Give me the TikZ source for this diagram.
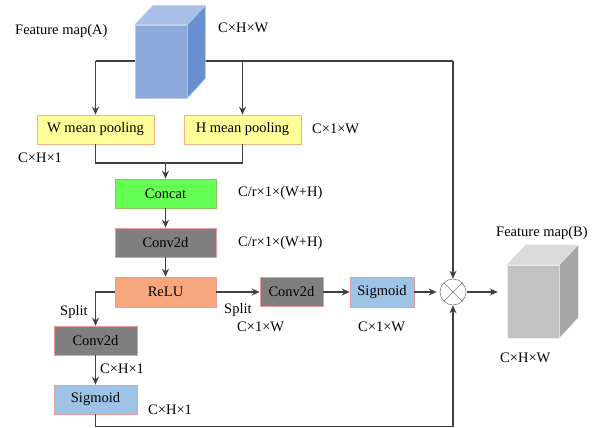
\documentclass[tikz,border=0pt]{standalone}
\usepackage{fontspec}
\setmainfont{Liberation Serif}
\usetikzlibrary{arrows.meta, positioning, calc}

\definecolor{linegray}{HTML}{404040}
\definecolor{poolfill}{HTML}{FFFF99}
\definecolor{poolline}{HTML}{F4B183}
\definecolor{catfill}{HTML}{66FF55}
\definecolor{convfill}{HTML}{7F7F7F}
\definecolor{relufill}{HTML}{F7A77E}
\definecolor{sigfill}{HTML}{9DC3E6}
\definecolor{pinkline}{HTML}{EA9A9A}
\definecolor{cubefront}{HTML}{8EA9DB}
\definecolor{cubetop}{HTML}{AABFE6}
\definecolor{cubeside}{HTML}{6A8FD0}
\definecolor{grayfront}{HTML}{C2C2C2}
\definecolor{graytop}{HTML}{DADADA}
\definecolor{grayside}{HTML}{A6A6A6}

\tikzset{
  txt/.style={font=\fontsize{14.5}{16}\selectfont, inner sep=0pt},
  blk/.style={txt, draw=pinkline, line width=0.6pt, minimum height=29pt},
  pool/.style={blk, draw=poolline, fill=poolfill, minimum width=117pt},
  cat/.style={blk, draw=pinkline!60!green, fill=catfill, minimum width=101pt},
  conv/.style={blk, fill=convfill},
  relu/.style={blk, fill=relufill, minimum width=101pt, minimum height=30pt},
  sig/.style={blk, fill=sigfill},
  link/.style={draw=linegray, line width=1.1pt},
  arr/.style={link, -{Stealth[length=8pt,width=7pt]}}
}

\begin{document}
\begin{tikzpicture}[x=1pt, y=-1pt]
  \useasboundingbox (0,0) rectangle (600,428);

  % --- Input feature map and its two taps ---
  \coordinate (tapL) at (95.5,61);
  \coordinate (tapR) at (453,61);
  \draw[link] (tapL) -- (tapR);
  \node[fill=cubefront, draw=cubefront!60!white, line width=0.5pt,
        minimum width=52pt, minimum height=73pt, inner sep=0pt] (cubeA) at (161,61.5) {};
  \draw[fill=cubetop, draw=cubefront!60!white, line width=0.5pt]
    (cubeA.north west) -- ++(18,-19) -- ++(52,0) -- (cubeA.north east) -- cycle;
  \draw[fill=cubeside, draw=cubefront!60!white, line width=0.5pt]
    (cubeA.north east) -- ++(18,-19) -- ++(0,73) -- (cubeA.south east) -- cycle;
  \node[txt, anchor=west] (nameA) at (15,31) {Feature map(A)};
  \node[txt, anchor=west] (dimA) at (218,28) {C×H×W};

  % --- Pooling along W and H ---
  \node[pool] (wpool) at (95.5,129.5) {W mean pooling};
  \node[pool] (hpool) at (242.5,129.5) {H mean pooling};
  \draw[arr] (tapL) -- (wpool.north);
  \draw[arr] (hpool.north |- tapL) -- (hpool.north);
  \node[txt, anchor=west] (dimW) at (18,158) {C×H×1};
  \node[txt, anchor=west] (dimH) at (312,129) {C×1×W};

  % --- Shared trunk ---
  \coordinate (merge) at (165.5,163);
  \draw[link] (wpool.south) |- (merge) -| (hpool.south);
  \node[cat] (concat) at (165.5,193.5) {Concat};
  \node[conv, minimum width=101pt] (convA) at (165.5,242.5) {Conv2d};
  \node[relu] (relu) at (165.5,292) {ReLU};
  \draw[arr] (merge) -- (concat.north);
  \draw[arr] (concat) -- (convA);
  \draw[arr] (convA) -- (relu);
  \node[txt, anchor=west] (dimCat) at (238,193) {C/r×1×(W+H)};
  \node[txt, anchor=west] (dimConv) at (238,243) {C/r×1×(W+H)};

  % --- W branch (right) ---
  \node[conv, minimum width=63pt] (convB) at (291.5,292) {Conv2d};
  \node[sig, minimum width=64pt, minimum height=30pt] (sigB) at (382,292) {Sigmoid};
  \node[circle, draw=gray, fill=white, line width=0.6pt, minimum size=26pt, inner sep=0pt] (mul) at (453,292) {};
  \draw[gray, line width=0.6pt] (mul.north west) -- (mul.south east)
                                  (mul.north east) -- (mul.south west);
  \draw[arr] (relu) -- (convB);
  \draw[arr] (convB) -- (sigB);
  \draw[arr, shorten >=3pt] (sigB) -- (mul);
  \draw[arr] (tapR) -- (mul.north);
  \node[txt, anchor=west] (splitB) at (224,310) {Split};
  \node[txt, anchor=west] (dimB) at (237,327) {C×1×W};
  \node[txt, anchor=west] (dimSigB) at (358,327) {C×1×W};

  % --- H branch (left) ---
  \node[conv, minimum width=83pt] (convC) at (95.5,340.5) {Conv2d};
  \node[sig, minimum width=83pt] (sigC) at (95.5,399.5) {Sigmoid};
  \draw[arr] (relu.west) -| (convC.north);
  \draw[arr] (convC) -- (sigC);
  \draw[arr] (sigC.south) |- (mul.south |- 0,426.5) -- (mul.south);
  \node[txt, anchor=west] (splitC) at (60,312) {Split};
  \node[txt, anchor=west] (dimC) at (100,369) {C×H×1};
  \node[txt, anchor=west] (dimSigC) at (148,410) {C×H×1};

  % --- Output feature map ---
  \node[fill=grayfront, draw=white!85!gray, line width=0.5pt,
        minimum width=52pt, minimum height=73pt, inner sep=0pt] (cubeB) at (533,301.5) {};
  \draw[fill=graytop, draw=white!85!gray, line width=0.5pt]
    (cubeB.north west) -- ++(19,-20) -- ++(52,0) -- (cubeB.north east) -- cycle;
  \draw[fill=grayside, draw=white!85!gray, line width=0.5pt]
    (cubeB.north east) -- ++(19,-20) -- ++(0,73) -- (cubeB.south east) -- cycle;
  \draw[arr, shorten <=1pt, shorten >=9pt] (mul.east) -- (mul.east -| cubeB.west);
  \node[txt, anchor=west] (nameB) at (496,233) {Feature map(B)};
  \node[txt, anchor=west] (dimOut) at (500,358) {C×H×W};

\end{tikzpicture}
\end{document}
